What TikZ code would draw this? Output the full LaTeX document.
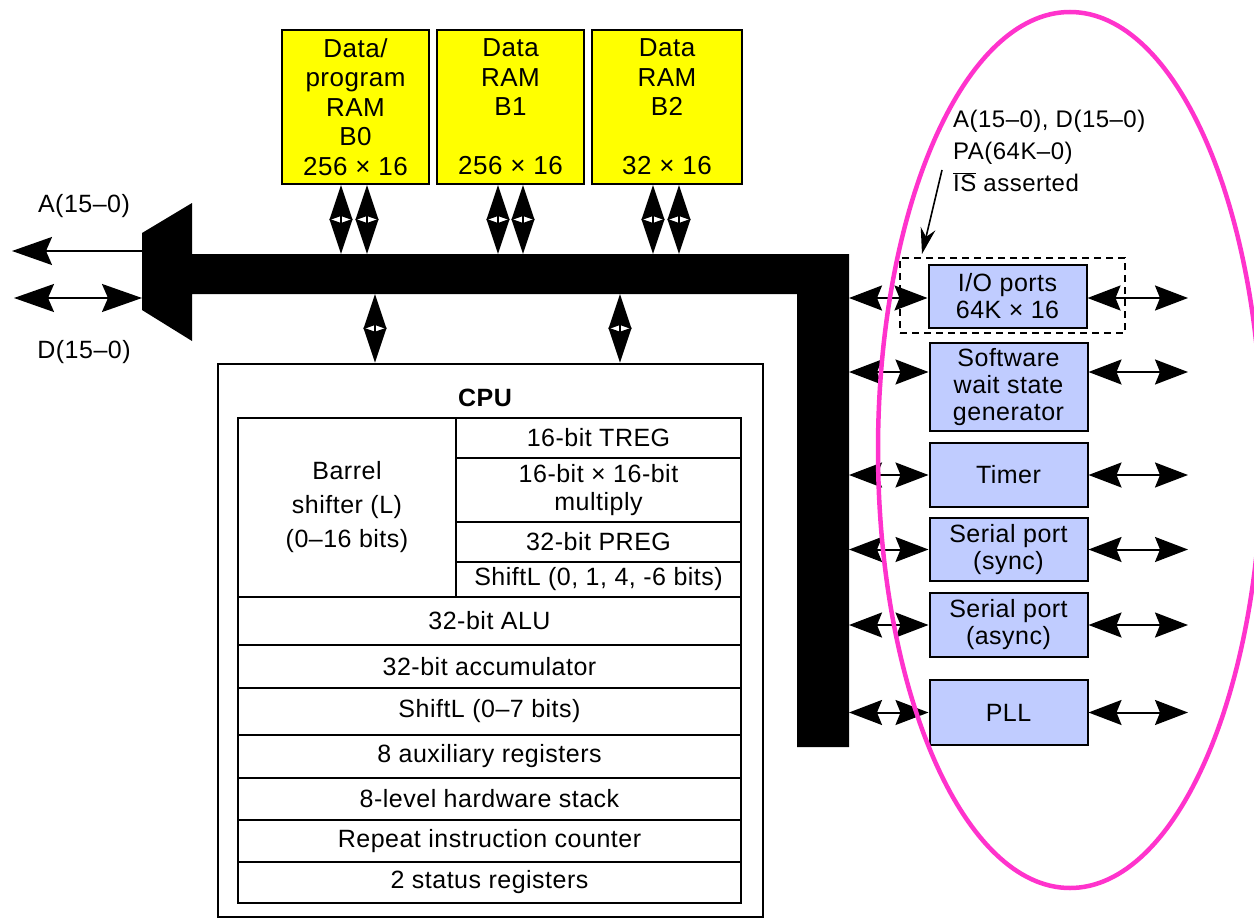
\documentclass[tikz,border=0pt]{standalone}
\usepackage{fontspec}
\setmainfont[LetterSpace=2]{Liberation Sans}
\usetikzlibrary{arrows.meta,calc}
\definecolor{ramyellow}{RGB}{255,255,0}
\definecolor{perib}{RGB}{192,204,255}
\definecolor{ellmag}{RGB}{255,51,204}
\begin{document}
\begin{tikzpicture}[x=1pt,y=-1pt,
  ram/.style={draw, line width=2pt, fill=ramyellow, minimum height=154pt, inner sep=0pt, align=center, font=\fontsize{26}{29.5}\selectfont},
  per/.style={draw, line width=2pt, fill=perib, minimum width=158pt, inner sep=0pt, align=center, font=\fontsize{25}{27}\selectfont},
  cell/.style={draw, line width=2pt, inner sep=0pt, align=center, font=\fontsize{25}{28}\selectfont},
  lbl/.style={inner sep=0pt, font=\fontsize{25}{30}\selectfont},
  shaft/.style={line width=2pt},
  bigtip/.tip={Stealth[length=40pt,width=28pt,inset=6pt]},
  midtip/.tip={Stealth[length=33pt,width=25pt,inset=5pt]},
  vtip/.tip={Stealth[length=35pt,width=23pt,inset=4pt]}
]
\useasboundingbox (0,0) rectangle (1254,918);

% reference coordinates on the bus
\coordinate (bt) at (500,254);
\coordinate (bb) at (500,294);
\coordinate (br) at (849,500);
\coordinate (ro) at (1188,500);
\coordinate (trapA) at (142,251);
\coordinate (aEnd) at (12,251);
\coordinate (trapD) at (142,298);
\coordinate (dEnd) at (14,298);

% bus
\fill (142,233) -- (192,203) -- (192,254) -- (849,254) -- (849,747) -- (797,747)
  -- (797,294) -- (192,294) -- (192,341) -- (142,310) -- cycle;

% RAM blocks
\node[ram, minimum width=147pt] (b0) at (355.5,107) {Data/\\program\\RAM\\B0\\256 × 16};
\node[ram, minimum width=147pt] (b1) at (510.5,107) {Data\\RAM\\B1\\\mbox{}\\256 × 16};
\node[ram, minimum width=150pt] (b2) at (667,107) {Data\\RAM\\B2\\\mbox{}\\32 × 16};

\foreach \n/\a/\b in {b0/-14.5/11.5, b1/-12.5/12.5, b2/-14/12}{
  \draw[shaft, {vtip}-{vtip}] ([xshift=\a pt]\n.south) -- ([xshift=\a pt]\n.south |- bt);
  \draw[shaft, {vtip}-{vtip}] ([xshift=\b pt]\n.south) -- ([xshift=\b pt]\n.south |- bt);
}

% external address / data
\draw[shaft, -{bigtip}] (trapA) -- (aEnd);
\draw[shaft, {bigtip}-{bigtip}] (dEnd) -- (trapD);
\node[lbl] (alab) at (84,206) {A(15–0)};
\node[lbl] (dlab) at (84,352) {D(15–0)};

% CPU
\node[draw, line width=2.5pt, minimum width=545pt, minimum height=553pt, inner sep=0pt] (cpu) at (490.5,640.5) {};
\node[lbl, font=\fontsize{25}{30}\selectfont\bfseries] (cpulbl) at (485,398) {CPU};
\draw[shaft, {vtip}-{vtip}] ([xshift=-115.5pt]cpu.north |- bb) -- ([xshift=-115.5pt]cpu.north);
\draw[shaft, {vtip}-{vtip}] ([xshift=129.5pt]cpu.north |- bb) -- ([xshift=129.5pt]cpu.north);

\node[cell, minimum width=218pt, minimum height=179pt, font=\fontsize{25}{34}\selectfont] (barrel) at (347,507.5) {Barrel\\shifter (L)\\(0–16 bits)};
\node[cell, minimum width=285pt, minimum height=40pt] (treg) at (598.5,438) {16-bit TREG};
\node[cell, minimum width=285pt, minimum height=64pt] (mult) at (598.5,490) {16-bit × 16-bit\\multiply};
\node[cell, minimum width=285pt, minimum height=40pt] (preg) at (598.5,542) {32-bit PREG};
\node[cell, minimum width=285pt, minimum height=35pt] (shl) at (598.5,579.5) {ShiftL (0, 1, 4, -6 bits)};
\node[cell, minimum width=503pt, minimum height=48pt] (alu) at (489.5,621) {32-bit ALU};
\node[cell, minimum width=503pt, minimum height=43pt] (acc) at (489.5,666.5) {32-bit accumulator};
\node[cell, minimum width=503pt, minimum height=47pt] (shl2) at (489.5,711.5) {ShiftL (0–7 bits)};
\node[cell, minimum width=503pt, minimum height=43pt] (aux) at (489.5,756.5) {8 auxiliary registers};
\node[cell, minimum width=503pt, minimum height=42pt] (stk) at (489.5,799) {8-level hardware stack};
\node[cell, minimum width=503pt, minimum height=42pt] (rpt) at (489.5,841) {Repeat instruction counter};
\node[cell, minimum width=503pt, minimum height=41pt] (st) at (489.5,882.5) {2 status registers};

% peripherals
\node[draw, dashed, dash pattern=on 7pt off 5pt, line width=1.8pt, minimum width=225pt, minimum height=75pt, inner sep=0pt] (dash) at (1012.5,295.5) {};
\node[per, minimum height=63pt] (io) at (1007.5,296.5) {I/O ports\\64K × 16};
\node[per, minimum height=88pt] (sw) at (1008.5,387) {Software\\wait state\\generator};
\node[per, minimum height=64pt] (tim) at (1008.5,475) {Timer};
\node[per, minimum height=63pt] (syn) at (1008.5,549.5) {Serial port\\(sync)};
\node[per, minimum height=64pt] (asy) at (1008.5,625) {Serial port\\(async)};
\node[per, minimum height=65pt] (pll) at (1008.5,712.5) {PLL};

\draw[shaft, {midtip}-{midtip}] ([yshift=-1.5pt]io.west -| br) -- ([yshift=-1.5pt]io.west);
\draw[shaft, {midtip}-{midtip}] ([yshift=-1.5pt]io.east) -- ([yshift=-1.5pt]io.east -| ro);
\draw[shaft, {midtip}-{midtip}] ([yshift=15pt]sw.west -| br) -- ([yshift=15pt]sw.west);
\draw[shaft, {midtip}-{midtip}] ([yshift=15pt]sw.east) -- ([yshift=15pt]sw.east -| ro);
\foreach \n in {tim,syn,asy,pll}{
  \draw[shaft, {midtip}-{midtip}] (\n.west -| br) -- (\n.west);
  \draw[shaft, {midtip}-{midtip}] (\n.east) -- (\n.east -| ro);
}

% annotation
\node[anchor=north west, align=left, inner sep=0pt, font=\fontsize{24}{32}\selectfont] (ann) at (953,110) {A(15–0), D(15–0)\\PA(64K–0)\\$\overline{\mbox{IS}}$ asserted};
\coordinate (annS) at (942,170);
\coordinate (annE) at (922,254);
\draw[line width=1.6pt, -{Stealth[length=26pt,width=15pt]}] (annS) -- (annE);

% highlight ellipse
\draw[ellmag, line width=4.5pt] (1070,450) ellipse [x radius=192pt, y radius=438pt];
\end{tikzpicture}
\end{document}
